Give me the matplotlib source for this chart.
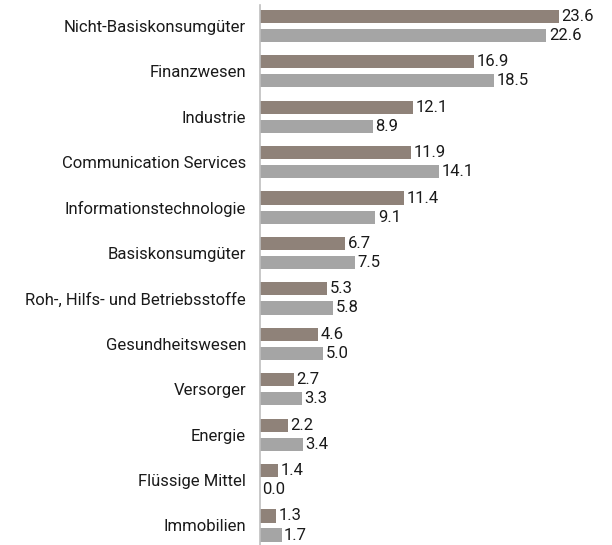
import matplotlib

matplotlib.use("Agg")
import matplotlib.pyplot as plt
import numpy as np
from matplotlib import font_manager

categories = [
    "Nicht-Basiskonsumgüter",
    "Finanzwesen",
    "Industrie",
    "Communication Services",
    "Informationstechnologie",
    "Basiskonsumgüter",
    "Roh-, Hilfs- und Betriebsstoffe",
    "Gesundheitswesen",
    "Versorger",
    "Energie",
    "Flüssige Mittel",
    "Immobilien",
]
fund = [23.6, 16.9, 12.1, 11.9, 11.4, 6.7, 5.3, 4.6, 2.7, 2.2, 1.4, 1.3]
benchmark = [22.6, 18.5, 8.9, 14.1, 9.1, 7.5, 5.8, 5.0, 3.3, 3.4, 0.0, 1.7]

names = {f.name for f in font_manager.fontManager.ttflist}
family = "Liberation Sans Narrow" if "Liberation Sans Narrow" in names else "Roboto"
plt.rcParams["font.family"] = [family, "DejaVu Sans"]

fig = plt.figure(figsize=(6.12, 5.45), dpi=100)
ax = fig.add_axes([260 / 612, 0, 1 - 260 / 612, 1 - 5 / 545])

y = np.arange(len(categories))
h = 0.29
off = 0.21
ax.barh(y - off, fund, height=h, color="#8f8279")
ax.barh(y + off, benchmark, height=h, color="#a5a5a5")

for yi, v in zip(y - off, fund):
    ax.text(v + 0.2, yi, f"{v:.1f}", va="center", ha="left", fontsize=12, color="#1a1a1a")
for yi, v in zip(y + off, benchmark):
    ax.text(v + 0.2, yi, f"{v:.1f}", va="center", ha="left", fontsize=12, color="#1a1a1a")

ax.set_yticks(y)
ax.set_yticklabels(categories, fontsize=12, color="#1a1a1a")
ax.tick_params(axis="y", length=0, pad=10)
ax.set_xticks([])
ax.set_xlim(0, (612 - 260) / 12.67)
ax.set_ylim(len(categories) - 1 + 0.43, -0.46)
for s in ["top", "right", "bottom"]:
    ax.spines[s].set_visible(False)
ax.spines["left"].set_color("#bfbfbf")
ax.spines["left"].set_linewidth(1.2)

fig.savefig("out.png", dpi=100)
